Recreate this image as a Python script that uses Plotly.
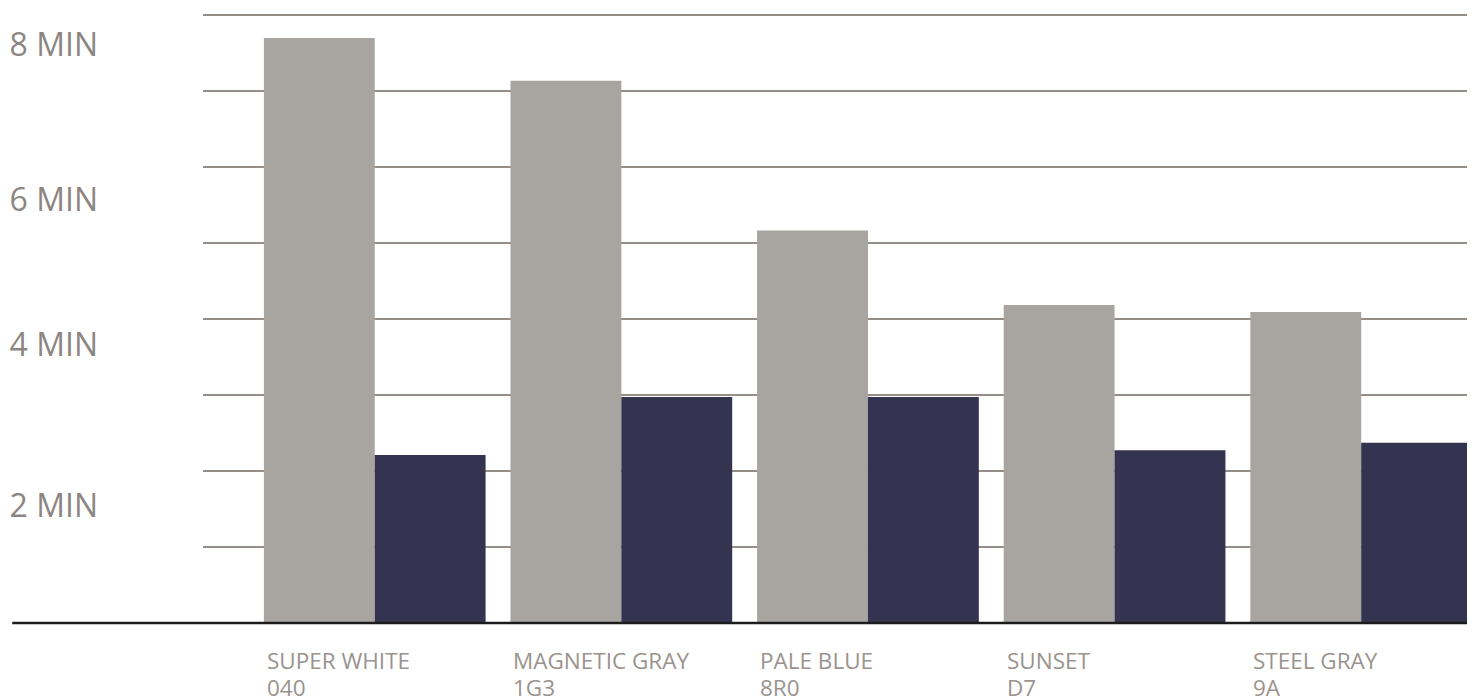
import plotly.graph_objects as go

category_names = ["SUPER WHITE", "MAGNETIC GRAY", "PALE BLUE", "SUNSET", "STEEL GRAY"]
category_codes = ["040", "1G3", "8R0", "D7", "9A"]
grey_values = [7.69, 7.13, 5.16, 4.18, 4.09]
navy_values = [2.21, 2.97, 2.97, 2.27, 2.37]
ytick_vals = [1.54, 3.66, 5.56, 7.60]
ytick_text = ["2 MIN", "4 MIN", "6 MIN", "8 MIN"]
grid_vals = [0, 1, 2, 3, 4, 5, 6, 7, 8]

GREY = "#a8a4a0"
NAVY = "#343350"
FONT = "Open Sans"
LABEL_COLOR = "#9a938e"

x_idx = list(range(len(category_names)))

fig = go.Figure()
fig.add_trace(go.Bar(x=x_idx, y=grey_values, marker=dict(color=GREY, line=dict(width=0)), showlegend=False))
fig.add_trace(go.Bar(x=x_idx, y=navy_values, marker=dict(color=NAVY, line=dict(width=0)), showlegend=False))

for i, (name, code) in enumerate(zip(category_names, category_codes)):
    for txt, shift in ((name, -20), (code, -47)):
        fig.add_annotation(x=i - 0.45, xref="x", y=0, yref="paper", text=txt, showarrow=False,
                           xanchor="left", yanchor="top", align="left", xshift=1, yshift=shift,
                           font=dict(family=FONT, size=22.5, color=LABEL_COLOR))

fig.add_shape(type="line", xref="paper", yref="paper", x0=-0.1502, x1=1.0, y0=0, y1=0,
              line=dict(color="#1c1c1c", width=2.5), layer="above")

fig.update_layout(
    width=1467, height=692,
    margin=dict(l=193, r=2, t=5, b=77),
    paper_bgcolor="white", plot_bgcolor="white",
    barmode="group", bargap=0.101, bargroupgap=0,
    xaxis=dict(range=[-0.6964, 4.4534], showticklabels=False, showgrid=False, zeroline=False, showline=False, ticks=""),
    yaxis=dict(range=[0, 8.02], tickmode="array", tickvals=ytick_vals, ticktext=ytick_text,
               showgrid=False, zeroline=False, showline=False, ticks="", ticklabelstandoff=104,
               tickfont=dict(family=FONT, size=32, color="#8c8581"),
               minor=dict(tickmode="array", tickvals=grid_vals, showgrid=True, gridcolor="#958d87", gridwidth=2, ticks="")),
    font=dict(family=FONT),
)

fig.write_html("out.html")
